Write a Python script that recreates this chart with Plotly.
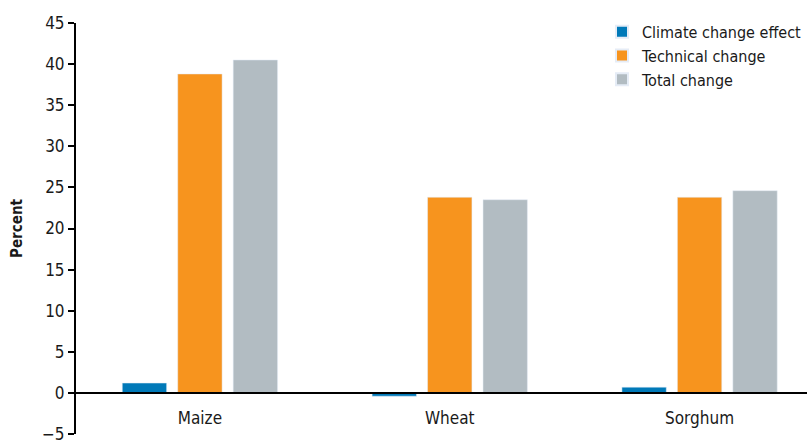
import plotly.graph_objects as go

crops = ["Maize", "Wheat", "Sorghum"]
climate_effect = [1.2, -0.4, 0.7]
technical_change = [38.8, 23.8, 23.8]
total_change = [40.5, 23.5, 24.6]

FONT = "DejaVu Sans Condensed, Liberation Sans Narrow, Arial Narrow, sans-serif"

fig = go.Figure()
fig.add_bar(x=crops, y=climate_effect, name="Climate change effect", marker_color="#0079b8")
fig.add_bar(x=crops, y=technical_change, name="Technical change", marker_color="#f7941e")
fig.add_bar(x=crops, y=total_change, name="Total change", marker_color="#b2bcc2")

fig.update_layout(
    width=807, height=440,
    margin=dict(l=76, r=0, t=23, b=6, autoexpand=False),
    paper_bgcolor="white", plot_bgcolor="white",
    barmode="group", bargap=0.334, bargroupgap=0.2,
    font=dict(family=FONT, size=17, color="#1a1a1a"),
    showlegend=True,
    legend=dict(x=1.0, xanchor="right", y=1.02, yanchor="top",
                font=dict(size=16), itemsizing="constant",
                tracegroupgap=0, bgcolor="rgba(0,0,0,0)"),
)
fig.update_yaxes(
    range=[-5, 45], tickmode="linear", tick0=-5, dtick=5,
    showgrid=False, zeroline=False, automargin=False,
    showline=True, linecolor="black", linewidth=2,
    ticks="outside", ticklen=6, tickcolor="black", tickwidth=1.5,
    tickformat="d", ticklabeloverflow="allow",
    title=dict(text="<b>Percent</b>", font=dict(size=15), standoff=16),
)
fig.update_xaxes(
    range=[-0.496, 2.43], showgrid=False, zeroline=False, automargin=False,
    anchor="free", position=0.1,
    showline=True, linecolor="black", linewidth=2,
    ticks="", ticklabelstandoff=10,
)

# the page body has a default 8px margin; drop it so the figure sits at the corner
fig.write_html("out.html", config={"displayModeBar": False},
               post_script="document.body.style.margin='0';")
